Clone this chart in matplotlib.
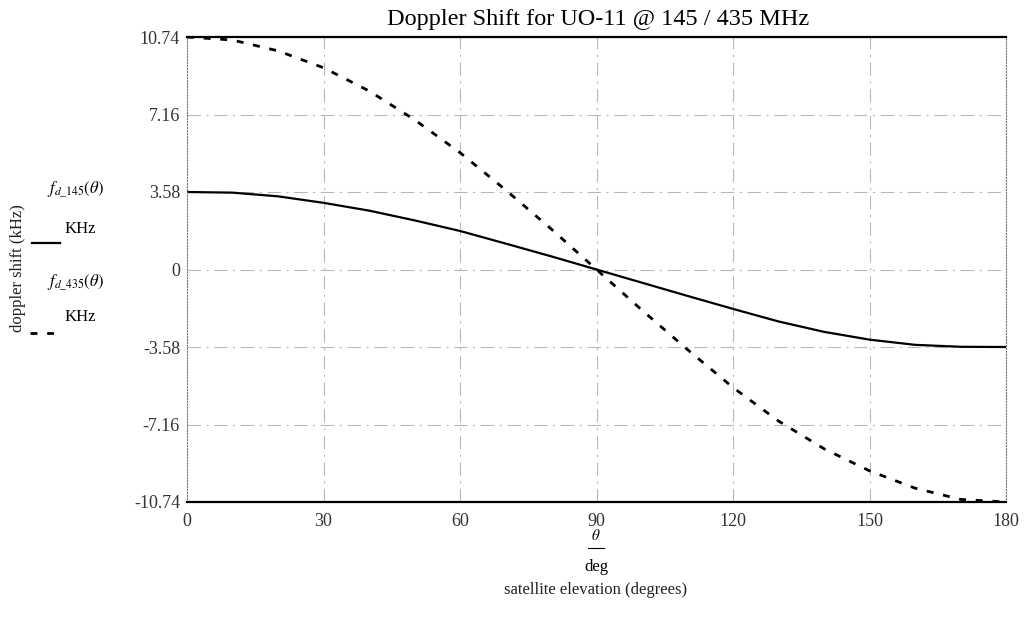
import numpy as np
import matplotlib.pyplot as plt
from matplotlib.lines import Line2D

plt.rcParams['font.family'] = ['Liberation Serif', 'DejaVu Serif']
plt.rcParams['mathtext.fontset'] = 'stix'

# elevation angle (degrees) and doppler shift (kHz)
theta = [0, 10, 20, 30, 40, 50, 60, 70, 80, 90,
         100, 110, 120, 130, 140, 150, 160, 170, 180]
fd_145 = [3.58, 3.55, 3.38, 3.08, 2.72, 2.27, 1.78, 1.20, 0.61, 0.0,
          -0.61, -1.22, -1.82, -2.40, -2.88, -3.24, -3.48, -3.57, -3.58]
fd_435 = [10.74, 10.60, 10.10, 9.32, 8.25, 6.92, 5.40, 3.68, 1.88, 0.0,
          -1.88, -3.70, -5.45, -7.00, -8.28, -9.30, -10.10, -10.62, -10.74]

yticks = [10.74, 7.16, 3.58, 0, -3.58, -7.16, -10.74]
ytick_labels = ['10.74', '7.16', '3.58', '0', '-3.58', '-7.16', '-10.74']
xticks = [0, 30, 60, 90, 120, 150, 180]

W, H = 1028, 629
def fx(px):
    return px / W
def fy(py):
    return 1 - py / H

fig = plt.figure(figsize=(W / 100, H / 100), dpi=100)
ax = fig.add_axes([fx(187), fy(502), (1006 - 187) / W, (502 - 37) / H])

ax.plot(theta, fd_145, color='black', lw=1.6)
ax.plot(theta, fd_435, color='black', lw=2.0, linestyle=(0, (2.5, 3.5)))

ax.set_xlim(0, 180)
ax.set_ylim(-10.74, 10.74)
ax.set_xticks(xticks)
ax.set_yticks(yticks)
ax.set_yticklabels(ytick_labels)
ax.tick_params(length=0, labelsize=13, colors='#333333')
ax.tick_params(axis='x', pad=8)
ax.tick_params(axis='y', pad=5)

# mathcad-like faint grid
for v in xticks[1:-1]:
    ax.axvline(v, color='0.72', lw=0.8, linestyle=(0, (12, 5, 2, 5)), zorder=0)
for v in yticks[1:-1]:
    ax.axhline(v, color='0.72', lw=0.8, linestyle=(0, (12, 5, 2, 5)), zorder=0)

for s in ['top', 'bottom']:
    ax.spines[s].set_linewidth(1.6)
    ax.spines[s].set_color('black')
for s in ['left', 'right']:
    ax.spines[s].set_linestyle(':')
    ax.spines[s].set_linewidth(0.8)
    ax.spines[s].set_color('0.45')

fig.text(fx(598), fy(19), 'Doppler Shift for UO-11 @ 145 / 435 MHz',
         ha='center', va='center', fontsize=17.5)

# x label (theta / deg)
fig.text(fx(596), fy(536), r'$\theta$', ha='center', va='center', fontsize=11)
fig.add_artist(Line2D([fx(588), fx(604)], [fy(548), fy(548)], color='black', lw=0.8))
fig.text(fx(596), fy(567), 'deg', ha='center', va='center', fontsize=12)
fig.text(fx(596), fy(590), 'satellite elevation (degrees)', ha='center', va='center',
         fontsize=12, color='#222222')

# y label and trace names
fig.text(fx(18), fy(268), 'doppler shift (kHz)', ha='center', va='center',
         rotation=90, fontsize=12, color='#222222')
fig.text(fx(76), fy(190), r'$f_{d\_145}(\theta)$', ha='center', va='center', fontsize=12)
fig.text(fx(80), fy(229), 'KHz', ha='center', va='center', fontsize=12)
fig.add_artist(Line2D([fx(32), fx(60)], [fy(243), fy(243)], color='black', lw=1.6))
fig.text(fx(76), fy(283), r'$f_{d\_435}(\theta)$', ha='center', va='center', fontsize=12)
fig.text(fx(80), fy(317), 'KHz', ha='center', va='center', fontsize=12)
fig.add_artist(Line2D([fx(30), fx(56)], [fy(333), fy(333)], color='black', lw=2.0,
                      linestyle=(0, (2.5, 3.5))))

fig.savefig('out.png', dpi=100)
